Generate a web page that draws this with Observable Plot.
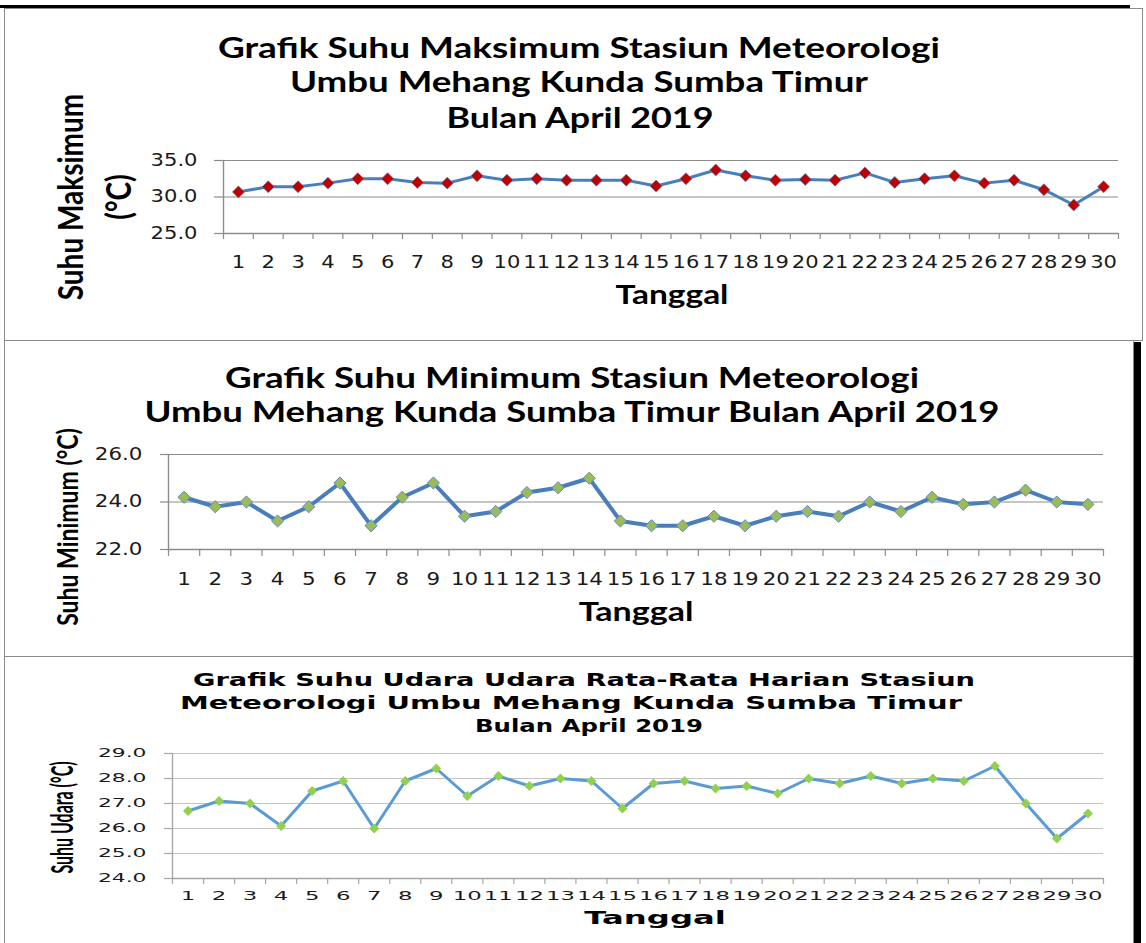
<!DOCTYPE html>
<html>
<head>
<meta charset="utf-8">
<script src="https://cdn.jsdelivr.net/npm/d3@7"></script>
<script src="https://cdn.jsdelivr.net/npm/@observablehq/plot@0.6"></script>
<style>
html, body { margin: 0; padding: 0; background: #fff; }
#root { position: relative; width: 1146px; height: 943px; overflow: hidden; background: #fff; }
.box { position: absolute; box-sizing: border-box; }
.title { position: absolute; left: 0; top: 0; white-space: nowrap; line-height: 1; color: #000; transform-origin: 0 0; }
.chart { position: absolute; left: 0; }
</style>
</head>
<body>
<div id="root"></div>
<script>
// ---------- data ----------
const days = [1,2,3,4,5,6,7,8,9,10,11,12,13,14,15,16,17,18,19,20,21,22,23,24,25,26,27,28,29,30];
const tmax = [30.7,31.4,31.4,31.9,32.5,32.5,32.0,31.9,32.9,32.3,32.5,32.3,32.3,32.3,31.5,32.5,33.7,32.9,32.3,32.4,32.3,33.3,32.0,32.5,32.9,31.9,32.3,31.0,28.9,31.4];
const tmin = [24.2,23.8,24.0,23.2,23.8,24.8,23.0,24.2,24.8,23.4,23.6,24.4,24.6,25.0,23.2,23.0,23.0,23.4,23.0,23.4,23.6,23.4,24.0,23.6,24.2,23.9,24.0,24.5,24.0,23.9];
const tavg = [26.7,27.1,27.0,26.1,27.5,27.9,26.0,27.9,28.4,27.3,28.1,27.7,28.0,27.9,26.8,27.8,27.9,27.6,27.7,27.4,28.0,27.8,28.1,27.8,28.0,27.9,28.5,27.0,25.6,26.6];
const ticksMax = [25, 30, 35];
const ticksMin = [22, 24, 26];
const ticksAvg = [24, 25, 26, 27, 28, 29];
const titleMax = ["Grafik Suhu Maksimum Stasiun Meteorologi", "Umbu Mehang Kunda Sumba Timur", "Bulan April 2019"];
const titleMin = ["Grafik Suhu Minimum Stasiun Meteorologi", "Umbu Mehang Kunda Sumba Timur Bulan April 2019"];
const titleAvg = ["Grafik Suhu Udara Udara Rata-Rata Harian Stasiun", "Meteorologi Umbu Mehang Kunda Sumba Timur", "Bulan April 2019"];
const xLabel = "Tanggal";
const yLabelMax = ["Suhu Maksimum", "(°C)"];
const yLabelMin = ["Suhu Minimum (°C)"];
const yLabelAvg = ["Suhu Udara (°C)"];

// ---------- helpers ----------
const root = document.getElementById("root");

function addBox(left, top, width, height, css) {
  const d = document.createElement("div");
  d.className = "box";
  d.style.cssText += `left:${left}px;top:${top}px;width:${width}px;height:${height}px;${css}`;
  root.appendChild(d);
}

function placeTitle(text, cx, cy, w, font) {
  const el = document.createElement("div");
  el.className = "title";
  el.textContent = text;
  el.style.font = font;
  el.style.lineHeight = "1";
  root.appendChild(el);
  const r = el.getBoundingClientRect();
  const k = w / r.width;
  el.style.transform = `translate(${cx - w / 2}px, ${cy - r.height / 2}px) scale(${k}, 1)`;
}

function stretchText(svg, k) {
  for (const t of svg.querySelectorAll("text")) {
    const tr = t.getAttribute("transform") || "";
    const m = tr.match(/^\s*translate\(\s*([-\d.e+]+)[\s,]+([-\d.e+]+)\s*\)(.*)$/);
    if (m) {
      t.setAttribute("transform", `translate(${m[1]},${m[2]}) scale(${k},1)${m[3]}`);
    } else if (!tr) {
      const x = +t.getAttribute("x") || 0, y = +t.getAttribute("y") || 0;
      t.removeAttribute("x"); t.removeAttribute("y");
      t.setAttribute("transform", `translate(${x},${y}) scale(${k},1)`);
    }
  }
}

function lineChart(cfg) {
  const rows = days.map((d, i) => ({day: d, value: cfg.values[i]}));
  const bounds = [...days.map(d => d - 0.5), days[days.length - 1] + 0.5];
  const svg = Plot.plot({
    width: 1146,
    height: cfg.height,
    marginLeft: cfg.left, marginRight: cfg.right, marginTop: cfg.top, marginBottom: cfg.bottom,
    style: {fontFamily: "'DejaVu Sans', Verdana, sans-serif", background: "transparent", color: "#1a1a1a", overflow: "visible"},
    x: {type: "linear", domain: [bounds[0], bounds[bounds.length - 1]], axis: null},
    y: {domain: [cfg.ticks[0], cfg.ticks[cfg.ticks.length - 1]], axis: null},
    marks: [
      Plot.ruleY(cfg.ticks, {stroke: cfg.grid, strokeWidth: 1.2}),
      Plot.ruleX([bounds[0]], {stroke: cfg.axis, strokeWidth: 1.4}),
      Plot.ruleY([cfg.ticks[0]], {stroke: cfg.axis, strokeWidth: 1.4}),
      Plot.axisY(cfg.ticks, {tickSize: cfg.yTickSize, tickPadding: cfg.yTickPad, tickFormat: d => d.toFixed(1), fontSize: cfg.yFont, stroke: cfg.axis, strokeWidth: 1.2, label: null}),
      Plot.axisX(bounds, {tickSize: cfg.xTickSize, tickFormat: () => "", stroke: cfg.axis, strokeWidth: 1.2, label: null}),
      Plot.axisX(days, {tickSize: 0, tickPadding: cfg.xTickPad, fontSize: cfg.xFont, label: null}),
      Plot.line(rows, {x: "day", y: "value", stroke: cfg.lineColor, strokeWidth: cfg.lineWidth}),
      Plot.dot(rows, {x: "day", y: "value", symbol: "diamond2", r: cfg.r, fill: cfg.dotFill, stroke: cfg.dotStroke, strokeWidth: cfg.dotStrokeWidth}),
      Plot.text([xLabel], {text: d => d, frameAnchor: "bottom", dx: cfg.xLabelDx, dy: cfg.xLabelDy, fontSize: cfg.xLabelSize, fontWeight: "bold", fontFamily: cfg.xLabelFont, fill: "#000"}),
      ...cfg.yLabels.map((t, i) => Plot.text([t], {text: d => d, frameAnchor: "left", textAnchor: "middle", lineAnchor: "middle", rotate: -90, dx: cfg.yLabelPos[i][0], dy: cfg.yLabelPos[i][1], fontSize: cfg.yLabelSize, fontWeight: "bold", fontFamily: "Lato, sans-serif", fill: "#000"}))
    ]
  });
  stretchText(svg, cfg.k);
  const wrap = document.createElement("div");
  wrap.className = "chart";
  wrap.style.top = cfg.at + "px";
  wrap.appendChild(svg);
  root.appendChild(wrap);
}

// ---------- frames ----------
addBox(4, 8, 1139, 333, "border:1.5px solid #8a8a8a;");
addBox(0, 5, 1130, 3, "background:#000;");
addBox(4, 340, 1130, 317, "border:1.5px solid #8a8a8a;");
addBox(4, 656, 1130, 300, "border:1.5px solid #8a8a8a;");
addBox(1134, 342, 7, 601, "background:#000;");

// ---------- panel 1: maximum ----------
placeTitle(titleMax[0], 579, 46, 722, "bold 29px Lato, sans-serif");
placeTitle(titleMax[1], 579, 80, 578, "bold 29px Lato, sans-serif");
placeTitle(titleMax[2], 580, 116, 267, "bold 29px Lato, sans-serif");
lineChart({
  values: tmax, ticks: ticksMax, at: 140, height: 200,
  left: 223, right: 28, top: 20, bottom: 107,
  grid: "#8c8c8c", axis: "#8c8c8c",
  yTickSize: 9, yTickPad: 17, yFont: 17,
  xTickSize: 6, xTickPad: 22, xFont: 17,
  lineColor: "#4a7ebb", lineWidth: 3, r: 5.4, dotFill: "#c00000", dotStroke: "#4a7ebb", dotStrokeWidth: 0.7,
  xLabelDx: 1, xLabelDy: 70, xLabelSize: 27, xLabelFont: "Lato, sans-serif",
  yLabels: yLabelMax, yLabelPos: [[-152, 0], [-104, 0]], yLabelSize: 28,
  k: 1.24
});

// ---------- panel 2: minimum ----------
placeTitle(titleMin[0], 572, 376, 694, "bold 29px Lato, sans-serif");
placeTitle(titleMin[1], 572, 410, 855, "bold 29px Lato, sans-serif");
lineChart({
  values: tmin, ticks: ticksMin, at: 430, height: 225,
  left: 168, right: 43, top: 24, bottom: 106,
  grid: "#8c8c8c", axis: "#8c8c8c",
  yTickSize: 8, yTickPad: 18, yFont: 17,
  xTickSize: 7, xTickPad: 23, xFont: 17,
  lineColor: "#4a7ebb", lineWidth: 4, r: 5.5, dotFill: "#9bbb59", dotStroke: "#5f8ac4", dotStrokeWidth: 1,
  xLabelDx: 0, xLabelDy: 71, xLabelSize: 27, xLabelFont: "Lato, sans-serif",
  yLabels: yLabelMin, yLabelPos: [[-100, 25]], yLabelSize: 23,
  k: 1.26
});

// ---------- panel 3: average ----------
placeTitle(titleAvg[0], 584, 680, 782, "bold 17px 'DejaVu Sans', sans-serif");
placeTitle(titleAvg[1], 571, 703, 782, "bold 17px 'DejaVu Sans', sans-serif");
placeTitle(titleAvg[2], 589, 726, 228, "bold 17px 'DejaVu Sans', sans-serif");
lineChart({
  values: tavg, ticks: ticksAvg, at: 735, height: 208,
  left: 172, right: 43, top: 18, bottom: 65,
  grid: "#c4c4c4", axis: "#a6a6a6",
  yTickSize: 8, yTickPad: 18, yFont: 11.5,
  xTickSize: 6, xTickPad: 13, xFont: 12,
  lineColor: "#5b9bd5", lineWidth: 3, r: 4.5, dotFill: "#92d050", dotStroke: "none", dotStrokeWidth: 0,
  xLabelDx: 17, xLabelDy: 45, xLabelSize: 17, xLabelFont: "'DejaVu Sans', sans-serif",
  yLabels: yLabelAvg, yLabelPos: [[-109, 1.5]], yLabelSize: 16,
  k: 1.9
});
</script>
</body>
</html>
